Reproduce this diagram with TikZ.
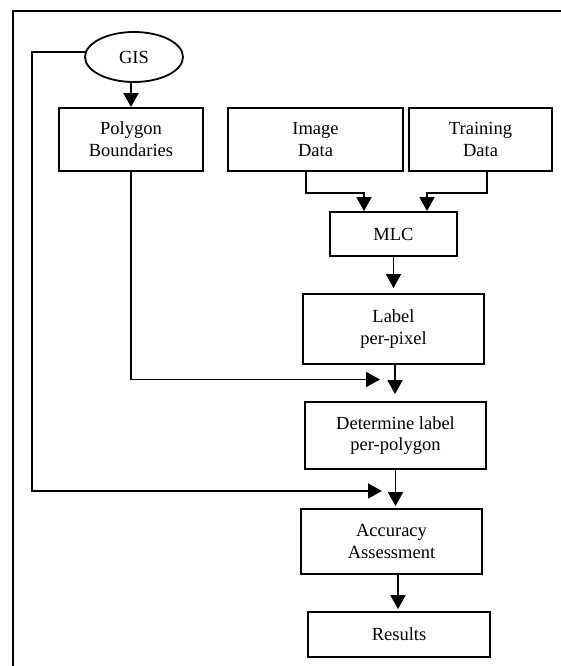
\documentclass[tikz,border=0pt]{standalone}
\usepackage{fontspec}
\setmainfont{Liberation Serif}
\usetikzlibrary{shapes.geometric,arrows.meta}
\begin{document}
\begin{tikzpicture}[x=1pt,y=1pt,
  every node/.style={font=\fontsize{18.5}{21.7}\selectfont, align=center, inner sep=0pt},
  box/.style={draw, line width=1.8pt, rectangle},
  oval/.style={draw, line width=1.8pt, ellipse},
  arr/.style={line width=1.7pt, -{Triangle[length=14pt,width=15pt]}},
  frame/.style={line width=2.3pt}]
\useasboundingbox (0,0) rectangle (561,-666);
% frame (top and left edges visible)
\coordinate (fbl) at (13,-680);
\coordinate (ftl) at (13,-11);
\coordinate (ftr) at (580,-11);
\draw[frame] (fbl) -- (ftl) -- (ftr);

\node[oval, minimum width=98pt, minimum height=50pt] (gis) at (134,-57) {GIS};
\node[box, minimum width=144pt, minimum height=63pt] (poly) at (131,-139.5) {Polygon\\Boundaries};
\node[box, minimum width=175pt, minimum height=63pt] (img) at (315.5,-139.5) {Image\\Data};
\node[box, minimum width=143pt, minimum height=63pt] (train) at (480.5,-139.5) {Training\\Data};
\node[box, minimum width=127pt, minimum height=44pt] (mlc) at (393.5,-234) {MLC};
\node[box, minimum width=181pt, minimum height=70pt] (label) at (393.5,-329) {Label\\per-pixel};
\node[box, minimum width=181pt, minimum height=67pt] (det) at (395.5,-435.5) {Determine label\\per-polygon};
\node[box, minimum width=181pt, minimum height=65pt] (acc) at (391.5,-541.5) {Accuracy\\Assessment};
\node[box, minimum width=182pt, minimum height=45pt] (res) at (399,-634.5) {Results};

% GIS -> Polygon Boundaries
\draw[arr] (poly.north |- gis.south) -- (poly.north);

% Image Data / Training Data -> MLC
\draw[arr] ([xshift=-9.5pt]img.south) -- ++(0,-21) -| ([xshift=-29.5pt]mlc.north);
\draw[arr] ([xshift=6.5pt]train.south) -- ++(0,-21) -| ([xshift=33.5pt]mlc.north);

% main chain
\draw[arr, shorten >=5pt] (mlc.south) -- (mlc.south |- label.north);
\draw[arr, shorten >=7pt] ([xshift=1.5pt]label.south) -- ([xshift=1.5pt]label.south |- det.north);
\draw[arr, shorten >=2pt] (det.south) -- (det.south |- acc.north);
\draw[arr, shorten >=2pt] ([xshift=6.5pt]acc.south) -- ([xshift=6.5pt]acc.south |- res.north);

% Polygon Boundaries -> (per-polygon step)
\coordinate (ptip) at (380,-379.5);
\draw[arr] (poly.south) |- (ptip);

% GIS -> (accuracy step)
\coordinate (gstart) at (85,-52);
\coordinate (gcorner) at (32,-52);
\coordinate (gtip) at (382,-491);
\draw[arr] (gstart) -- (gcorner) |- (gtip);
\end{tikzpicture}
\end{document}
